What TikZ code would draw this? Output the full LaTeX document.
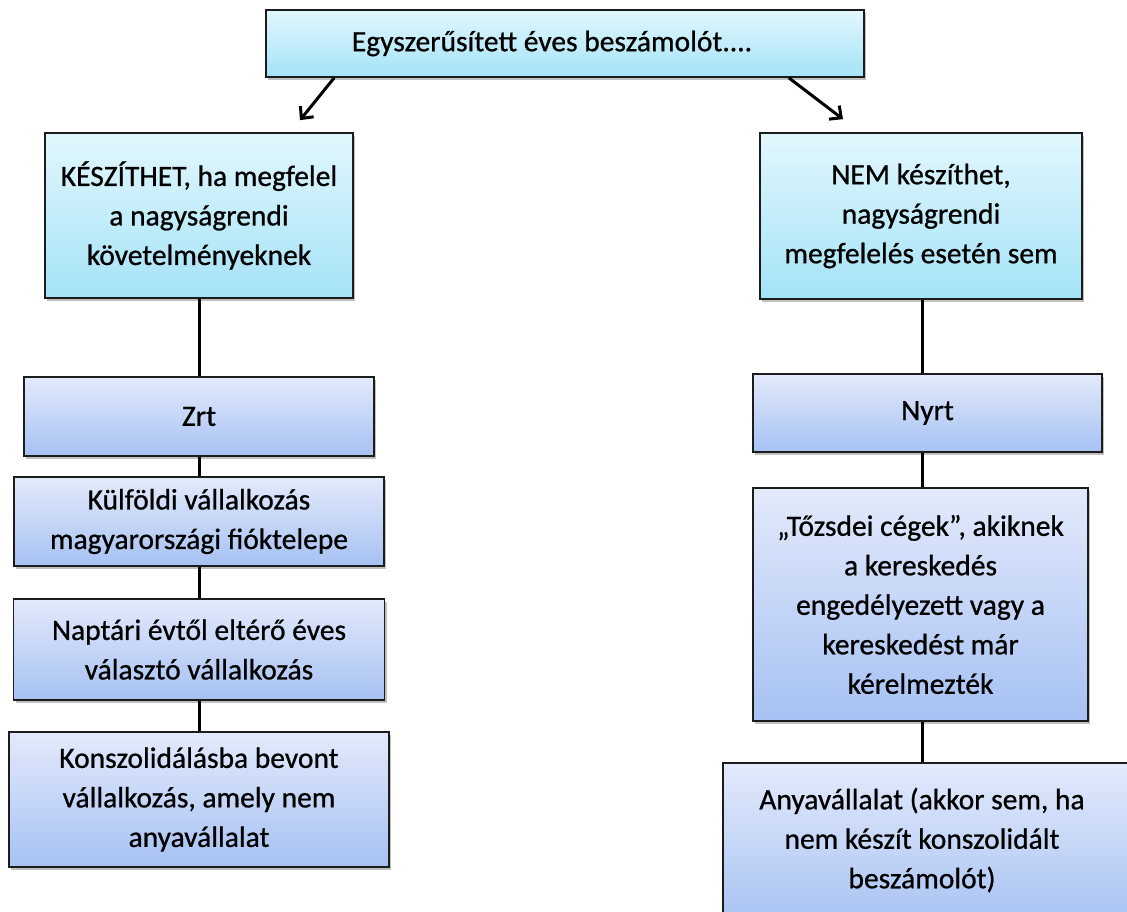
\documentclass[tikz,border=0pt]{standalone}
\usepackage{fontspec}
\setmainfont{Carlito}[FakeBold=0.8]
\usetikzlibrary{shadows,arrows.meta}

\definecolor{edge}{HTML}{1C1C1C}
\definecolor{cyantop}{HTML}{E2F7FD}
\definecolor{cyanbot}{HTML}{A4E3F7}
\definecolor{bluetop}{HTML}{E3EAFB}
\definecolor{bluebot}{HTML}{A6C1F3}

\tikzset{
  box/.style={draw=edge, line width=1.7pt, align=center, inner sep=0pt,
    font=\fontsize{29.5}{39.5}\selectfont,
    drop shadow={shadow xshift=2pt, shadow yshift=-2.5pt, opacity=0.35, fill=black!70}},
  upbox/.style={box, top color=cyantop, bottom color=cyanbot},
  lowbox/.style={box, top color=bluetop, bottom color=bluebot},
  boxtext/.style={align=center, inner sep=0pt, font=\fontsize{29.5}{39.5}\selectfont},
  link/.style={line width=3pt, draw=black},
  pointer/.style={link, -{Straight Barb[length=9pt, width=17pt, line width=3pt]}}
}

\begin{document}
\begin{tikzpicture}[x=1pt, y=-1pt]
  \useasboundingbox (0,0) rectangle (1127,911);
  \fill[white] (0,0) rectangle (1127,911);
  \clip (0,0) rectangle (1127,911);

  % top question
  \node[upbox, minimum width=598pt, minimum height=67pt] (top) at (565,43.5)
    {Egyszerűsített éves beszámolót....\hspace*{26pt}};

  % left branch
  \node[upbox, minimum width=308pt, minimum height=165pt] (kesz) at (199,215.5)
    {KÉSZÍTHET, ha megfelel\\ a nagyságrendi\\ követelményeknek};
  \node[lowbox, minimum width=350pt, minimum height=79pt] (zrt) at (199,416.5) {Zrt};
  \node[lowbox, minimum width=370pt, minimum height=89pt] (kulf) at (199,521.5)
    {Külföldi vállalkozás\\ magyarországi fióktelepe};
  \node[lowbox, minimum width=371pt, minimum height=101pt] (napt) at (199,649.5)
    {Naptári évtől eltérő éves\\ választó vállalkozás};
  \node[lowbox, minimum width=380pt, minimum height=135pt] (konsz) at (199,799.5)
    {Konszolidálásba bevont\\ vállalkozás, amely nem\\ anyavállalat};

  % right branch
  \node[upbox, minimum width=322pt, minimum height=166pt] (nem) at (921,216)
    {NEM készíthet,\\ nagyságrendi\\ megfelelés esetén sem};
  \node[lowbox, minimum width=349pt, minimum height=78pt] (nyrt) at (927.5,413) {Nyrt};
  \node[lowbox, minimum width=335pt, minimum height=233pt] (tozs) at (920.5,604.5)
    {„Tőzsdei cégek”, akiknek\\ a kereskedés\\ engedélyezett vagy a\\ kereskedést már\\ kérelmezték};
  \node[lowbox, minimum width=412pt, minimum height=167pt] (anya) at (929,846.5) {};
  \node[boxtext] (anyatext) at (922,840)
    {Anyavállalat (akkor sem, ha\\ nem készít konszolidált\\ beszámolót)};

  % arrows from the question
  \draw[pointer] ([xshift=69pt]top.south west) -- ([xshift=101pt, yshift=12pt]kesz.north);
  \draw[pointer] ([xshift=-76pt]top.south east) -- ([xshift=-78pt, yshift=13pt]nem.north);

  % vertical links, left column
  \draw[link] (kesz.south) -- (zrt.north);
  \draw[link] (zrt.south) -- (kulf.north);
  \draw[link] (kulf.south) -- (napt.north);
  \draw[link] (napt.south) -- (konsz.north);

  % vertical links, right column
  \draw[link] ([xshift=1pt]nem.south) -- ([xshift=1pt]nem.south |- nyrt.north);
  \draw[link] ([xshift=1pt]nem.south |- nyrt.south) -- ([xshift=1pt]nem.south |- tozs.north);
  \draw[link] ([xshift=1pt]nem.south |- tozs.south) -- ([xshift=1pt]nem.south |- anya.north);
\end{tikzpicture}
\end{document}
